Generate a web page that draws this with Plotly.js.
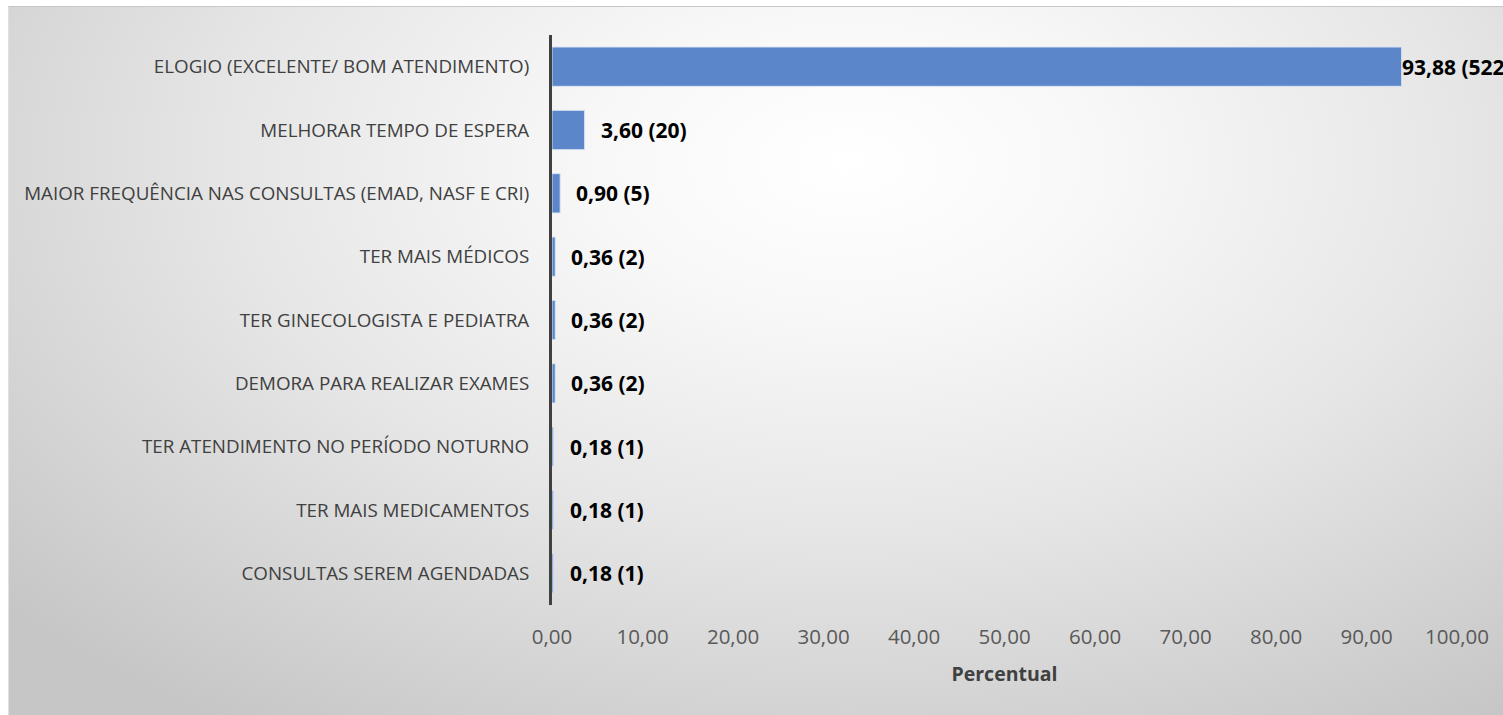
<!DOCTYPE html>
<html>
<head>
<meta charset="utf-8">
<script src="https://cdn.plot.ly/plotly-3.0.1.min.js"></script>
<style>
  html, body { margin: 0; padding: 0; background: #ffffff; }
  #wrap { position: absolute; left: 0; top: 0; width: 1503px; height: 715px; background: #ffffff; overflow: hidden; }
  #bg { position: absolute; left: 8px; top: 6px; width: 1500px; height: 708px;
        border-top: 1px solid #c8c8c8; border-left: 1px solid #e0e0e0;
        background: radial-gradient(ellipse 75% 95% at 56% 22%, #ffffff 0%, #f8f8f8 22%, #e6e6e6 55%, #c6c6c6 100%); }
  #chart { position: absolute; left: 0; top: 0; width: 1503px; height: 715px; }
</style>
</head>
<body>
<div id="wrap">
  <div id="bg"></div>
  <div id="chart"></div>
</div>
<script>
const categories = [
  "ELOGIO (EXCELENTE/ BOM ATENDIMENTO)",
  "MELHORAR TEMPO DE ESPERA",
  "MAIOR FREQUÊNCIA NAS CONSULTAS (EMAD, NASF E CRI)",
  "TER MAIS MÉDICOS",
  "TER GINECOLOGISTA E PEDIATRA",
  "DEMORA PARA REALIZAR EXAMES",
  "TER ATENDIMENTO NO PERÍODO NOTURNO",
  "TER MAIS MEDICAMENTOS",
  "CONSULTAS SEREM AGENDADAS"
];
const percentValues = [93.88, 3.60, 0.90, 0.36, 0.36, 0.36, 0.18, 0.18, 0.18];
const counts = [522, 20, 5, 2, 2, 2, 1, 1, 1];
const labelTexts = ["93,88 (522)", "3,60 (20)", "0,90 (5)", "0,36 (2)", "0,36 (2)", "0,36 (2)", "0,18 (1)", "0,18 (1)", "0,18 (1)"];
const xTickVals = [0, 10, 20, 30, 40, 50, 60, 70, 80, 90, 100];
const xTickText = ["0,00", "10,00", "20,00", "30,00", "40,00", "50,00", "60,00", "70,00", "80,00", "90,00", "100,00"];

const FONT = "'Open Sans', Lato, sans-serif";

const trace = {
  type: "bar",
  orientation: "h",
  x: percentValues,
  y: categories,
  marker: { color: "#5b86c9", line: { color: "rgba(220,230,245,0.9)", width: 1 } },
  hoverinfo: "skip",
  cliponaxis: false
};

const annotations = categories.map((c, i) => ({
  x: percentValues[i],
  y: c,
  xref: "x",
  yref: "y",
  text: labelTexts[i],
  showarrow: false,
  xanchor: "left",
  yanchor: "middle",
  xshift: i === 0 ? -2 : 14,
  font: { family: FONT, size: 21, color: "#000000", weight: "bold" }
}));

const layout = {
  width: 1503,
  height: 715,
  paper_bgcolor: "rgba(0,0,0,0)",
  plot_bgcolor: "rgba(0,0,0,0)",
  margin: { l: 552, r: 46, t: 35, b: 110, pad: 0 },
  showlegend: false,
  bargap: 0.38,
  xaxis: {
    range: [0, 100],
    tickvals: xTickVals,
    ticktext: xTickText,
    showgrid: false,
    zeroline: false,
    showline: false,
    ticks: "outside",
    ticklen: 13,
    tickcolor: "rgba(0,0,0,0)",
    tickfont: { family: FONT, size: 20.5, color: "#595959" },
    title: { text: "<b>Percentual</b>", font: { family: FONT, size: 19.5, color: "#404040" }, standoff: 18 },
    fixedrange: true
  },
  yaxis: {
    type: "category",
    categoryorder: "array",
    categoryarray: categories,
    autorange: "reversed",
    showgrid: false,
    zeroline: false,
    showline: true,
    linecolor: "#404040",
    linewidth: 3,
    ticks: "outside",
    ticklen: 16,
    tickcolor: "rgba(0,0,0,0)",
    tickfont: { family: FONT, size: 18.8, color: "#404040" },
    fixedrange: true
  },
  annotations: annotations
};

Plotly.newPlot("chart", [trace], layout, { displayModeBar: false, staticPlot: true });
</script>
</body>
</html>
